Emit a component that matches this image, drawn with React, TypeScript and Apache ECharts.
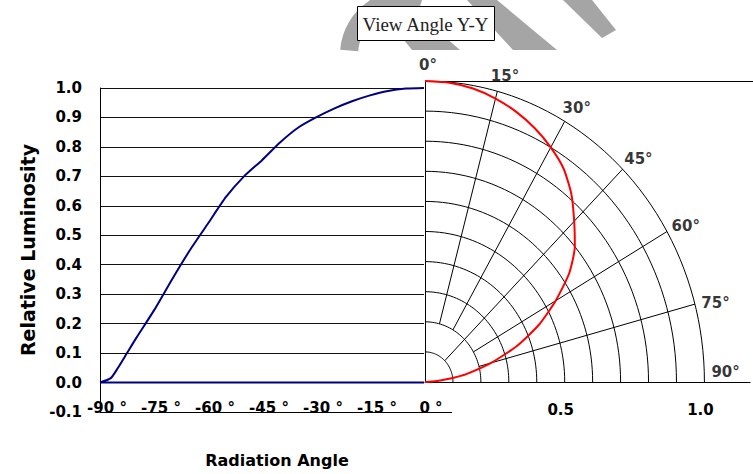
import React, { useEffect, useRef } from "react";
import * as echarts from "echarts";

// ---- data ----
const angles = [0, 5, 10, 15, 20, 25, 30, 35, 40, 45, 50, 55, 60, 65, 70, 75, 80, 82.5, 85, 87, 90];
const luminosity = [1.0, 0.998, 0.99, 0.975, 0.955, 0.93, 0.9, 0.865, 0.815, 0.755, 0.7, 0.63, 0.54, 0.45, 0.35, 0.245, 0.15, 0.1, 0.05, 0.015, 0.0];
const xMin = -90;
const xMax = 0;
const xStep = 15;
const yMin = -0.1;
const yMax = 1.0;
const yStep = 0.1;
const ringRadii = [0.1, 0.2, 0.3, 0.4, 0.5, 0.6, 0.7, 0.8, 0.9, 1.0];
const spokeAngles = [15, 30, 45, 60, 75];
const spokeInner = [0.2, 0.2, 0.1, 0.2, 0.2];
const angleLabels = [0, 15, 30, 45, 60, 75, 90];
const radiusLabels = [0.5, 1.0];
const titleText = "View Angle Y-Y";
const xName = "Radiation Angle";
const yName = "Relative Luminosity";

const FONT = "DejaVu Sans";
const rad = (d: number) => (d * Math.PI) / 180;
const toXY = (r: number, d: number) => [r * Math.sin(rad(d)), r * Math.cos(rad(d))];

function arcPoints(r: number) {
  const pts: number[][] = [];
  for (let d = 0; d <= 90; d += 2) pts.push(toXY(r, d));
  return pts;
}

export default function App() {
  const ref = useRef<HTMLDivElement>(null);
  useEffect(() => {
    if (!ref.current) return;
    const chart = echarts.init(ref.current, undefined, { renderer: "svg" });

    const leftCurve = angles
      .map((a, i) => [-a, luminosity[i]])
      .reverse();
    const baseline = [
      [-angles[angles.length - 1], 0],
      [angles[0], 0],
    ];
    const polarCurve = angles.map((a, i) => toXY(luminosity[i], a));

    const ringSeries = ringRadii.map((r) => ({
      type: "line",
      xAxisIndex: 1,
      yAxisIndex: 1,
      data: arcPoints(r),
      showSymbol: false,
      silent: true,
      lineStyle: { color: "#000", width: 1 },
      z: 2,
    }));
    const spokeSeries = spokeAngles.map((a, i) => ({
      type: "line",
      xAxisIndex: 1,
      yAxisIndex: 1,
      data: [toXY(spokeInner[i], a), toXY(1, a)],
      showSymbol: false,
      silent: true,
      lineStyle: { color: "#000", width: 1 },
      z: 2,
    }));

    const labelFont = { fontFamily: FONT, fontWeight: "bold", fontSize: 15, color: "#000" };

    const option: any = {
      animation: false,
      textStyle: { fontFamily: FONT },
      grid: [
        { left: 100, top: 88, width: 324, height: 324 },
        { left: 425, top: 81, width: 328, height: 301 },
      ],
      xAxis: [
        {
          gridIndex: 0,
          type: "value",
          position: "bottom",
          min: xMin,
          max: xMax,
          interval: xStep,
          axisLine: { show: true, onZero: false, lineStyle: { color: "#000", width: 1 } },
          axisTick: { show: false },
          splitLine: { show: false },
          axisLabel: {
            ...labelFont,
            margin: -12,
            padding: [0, 0, 0, 14],
            formatter: (v: number) => `${v} °`,
          },
          name: xName,
          nameLocation: "middle",
          nameGap: 40,
          nameMoveOverlap: false,
          nameTextStyle: { fontFamily: FONT, fontWeight: "bold", fontSize: 16, color: "#000", padding: [0, 0, 0, 30] },
        },
        {
          gridIndex: 1,
          type: "value",
          position: "bottom",
          min: 0,
          max: 328 / 282,
          interval: 0.5,
          axisLine: { show: true, onZero: false, lineStyle: { color: "#000", width: 1 } },
          axisTick: { show: false },
          splitLine: { show: false },
          axisLabel: {
            ...labelFont,
            margin: 20,
            padding: [0, 8, 0, 0],
            showMinLabel: false,
            formatter: (v: number) =>
              radiusLabels.some((r) => Math.abs(r - v) < 1e-6) ? v.toFixed(1) : "",
          },
        },
      ],
      yAxis: [
        {
          gridIndex: 0,
          type: "value",
          position: "left",
          min: yMin,
          max: yMax,
          interval: yStep,
          axisLine: { show: true, onZero: false, lineStyle: { color: "#000", width: 1 } },
          axisTick: { show: false },
          splitLine: { show: true, lineStyle: { color: "#111", width: 1 } },
          axisLabel: { ...labelFont, margin: 18, formatter: (v: number) => v.toFixed(1) },
          name: yName,
          nameLocation: "middle",
          nameGap: 63,
          nameMoveOverlap: false,
          nameTextStyle: { fontFamily: FONT, fontWeight: "bold", fontSize: 19, color: "#000" },
        },
        {
          gridIndex: 1,
          type: "value",
          position: "left",
          min: 0,
          max: 1,
          axisLine: { show: true, onZero: false, lineStyle: { color: "#000", width: 1 } },
          axisTick: { show: false },
          splitLine: { show: false },
          axisLabel: { show: false },
        },
      ],
      series: [
        ...ringSeries,
        ...spokeSeries,
        {
          type: "line",
          xAxisIndex: 0,
          yAxisIndex: 0,
          data: baseline,
          showSymbol: false,
          lineStyle: { color: "#000080", width: 2 },
          z: 4,
        },
        {
          type: "line",
          xAxisIndex: 0,
          yAxisIndex: 0,
          data: leftCurve,
          smooth: 0.2,
          showSymbol: false,
          lineStyle: { color: "#000080", width: 2 },
          z: 5,
        },
        {
          type: "line",
          xAxisIndex: 1,
          yAxisIndex: 1,
          data: polarCurve,
          smooth: 0.2,
          showSymbol: false,
          lineStyle: { color: "#ff0000", width: 2 },
          z: 5,
        },
        {
          type: "scatter",
          xAxisIndex: 1,
          yAxisIndex: 1,
          clip: false,
          symbolSize: 1,
          itemStyle: { color: "rgba(0,0,0,0)" },
          silent: true,
          data: angleLabels.map((a) => ({
            value: toXY(1.065, a),
            name: `${a}°`,
            label: a === 90 ? { offset: [3, -10] } : undefined,
          })),
          label: {
            show: true,
            position: "inside",
            offset: [3, 4],
            formatter: "{b}",
            ...labelFont,
          },
          z: 6,
        },
      ],
      graphic: [
        {
          type: "sector",
          silent: true,
          z: 0,
          shape: { cx: 405, cy: 55, r0: 47, r: 65, startAngle: Math.PI + 0.08, endAngle: Math.PI * 1.5 + 0.3 },
          style: { fill: "#a5a5a5" },
        },
        { type: "polygon", silent: true, z: 0, shape: { points: [[372, 0], [402, 0], [460, 50], [412, 50]] }, style: { fill: "#a5a5a5" } },
        { type: "polygon", silent: true, z: 0, shape: { points: [[467, 0], [497, 0], [557, 50], [513, 50]] }, style: { fill: "#a5a5a5" } },
        { type: "polygon", silent: true, z: 0, shape: { points: [[563, 0], [592, 0], [616, 30], [602, 38]] }, style: { fill: "#a5a5a5" } },
        {
          type: "rect",
          z: 10,
          shape: { x: 357.5, y: 6.5, width: 137, height: 34 },
          style: { fill: "#fff", stroke: "#000", lineWidth: 1 },
        },
        {
          type: "text",
          z: 11,
          x: 425.5,
          y: 24,
          style: {
            text: titleText,
            fontFamily: "Liberation Serif",
            fontSize: 19,
            fill: "#222",
            align: "center",
            verticalAlign: "middle",
          },
        },
        {
          type: "line",
          z: 3,
          shape: { x1: 424, y1: 412.5, x2: 452, y2: 412.5 },
          style: { stroke: "#000", lineWidth: 1 },
        },
        {
          type: "line",
          z: 3,
          shape: { x1: 425, y1: 81.5, x2: 753, y2: 81.5 },
          style: { stroke: "#000", lineWidth: 1 },
        },
        {
          type: "line",
          z: 3,
          shape: { x1: 100.5, y1: 88, x2: 100.5, y2: 413 },
          style: { stroke: "#000", lineWidth: 1 },
        },
      ],
    };
    chart.setOption(option);
    return () => chart.dispose();
  }, []);
  return (
    <div
      ref={ref}
      style={{ position: "fixed", left: 0, top: 0, width: 753, height: 474, background: "#fff" }}
    />
  );
}
